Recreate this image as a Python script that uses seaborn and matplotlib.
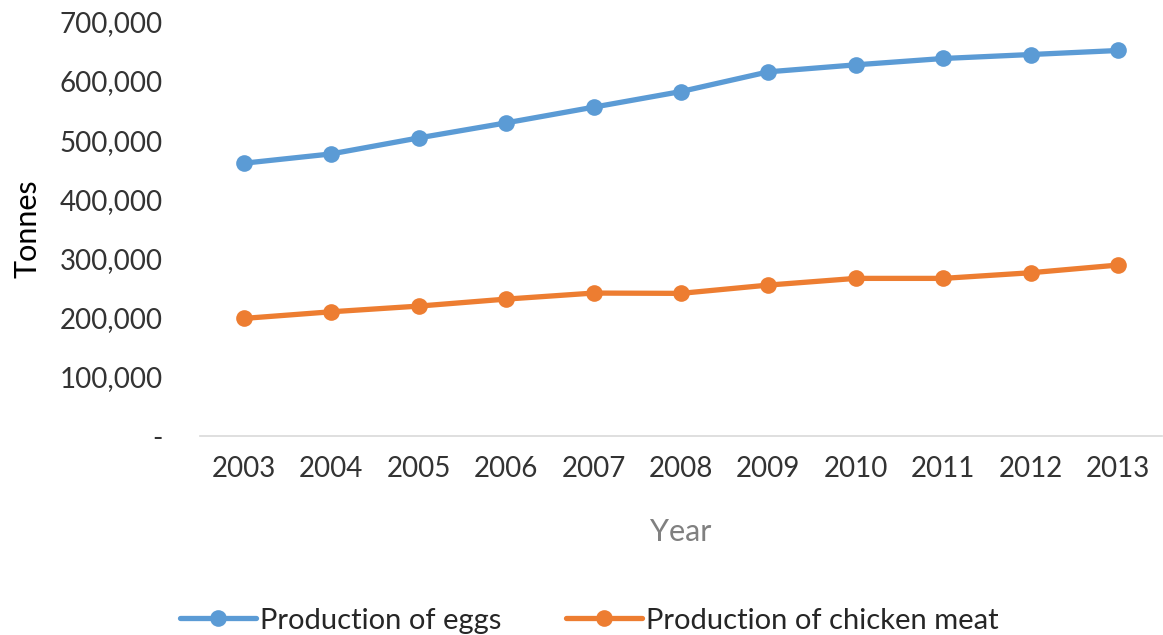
import pandas as pd
import numpy as np
import matplotlib.pyplot as plt
import seaborn as sns
from matplotlib.ticker import FuncFormatter

# Data
years = ["2003", "2004", "2005", "2006", "2007", "2008", "2009", "2010", "2011", "2012", "2013"]
eggs = [460900, 476600, 503600, 529000, 555500, 581900, 615200, 627000, 637700, 644400, 651200]
chicken = [198900, 210100, 219700, 231500, 241700, 241200, 255200, 266500, 266500, 276000, 289000]
series_names = ["Production of eggs", "Production of chicken meat"]
colors = ["#5B9BD5", "#ED7D31"]

df = pd.DataFrame({
    "Year": years * 2,
    "Tonnes": eggs + chicken,
    "Series": [series_names[0]] * len(years) + [series_names[1]] * len(years),
})

sns.set_style("white")
plt.rcParams["font.family"] = ["Lato", "DejaVu Sans"]

fig = plt.figure(figsize=(11.63, 6.35), dpi=100)
ax = fig.add_axes([0.172, 0.313, 0.827, 0.653])

sns.lineplot(data=df, x="Year", y="Tonnes", hue="Series", palette=colors,
             marker="o", markersize=12, markeredgewidth=0, linewidth=3.8,
             sort=False, ax=ax)

ax.set_xlim(-0.5, len(years) - 0.5)
ax.set_ylim(0, 700000)
ax.set_yticks(np.arange(0, 700001, 100000))
ax.yaxis.set_major_formatter(FuncFormatter(lambda v, p: "-" if v == 0 else f"{int(v):,}"))
ax.tick_params(axis="both", labelsize=20, colors="#333333", length=0)
ax.tick_params(axis="x", pad=14)
ax.tick_params(axis="y", pad=27)

for s in ["top", "right", "left"]:
    ax.spines[s].set_visible(False)
ax.spines["bottom"].set_color("#D9D9D9")
ax.spines["bottom"].set_linewidth(1.2)

ax.set_xlabel("Year", fontsize=22, color="#808080", labelpad=26)
ax.set_ylabel("Tonnes", fontsize=22, color="black")
ax.yaxis.set_label_coords(-0.165, 0.5)

ax.legend(loc="upper center", bbox_to_anchor=(0.405, -0.35), ncol=2, frameon=False,
          fontsize=21, handlelength=2.6, columnspacing=2.2, handletextpad=0.15,
          title=None)

fig.savefig("out.png", dpi=100)
